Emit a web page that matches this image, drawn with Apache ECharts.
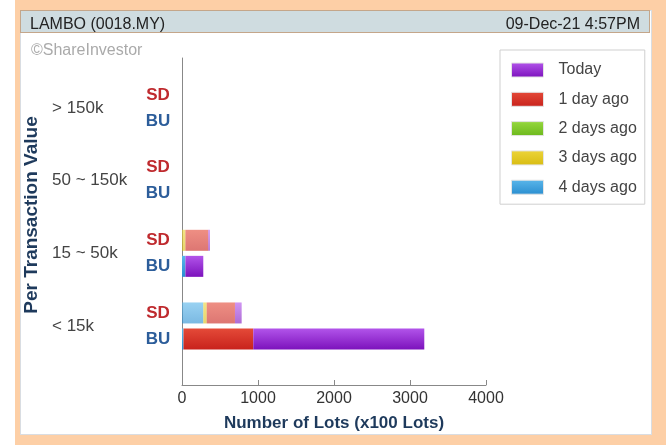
<!DOCTYPE html>
<html>
<head>
<meta charset="utf-8">
<script src="https://cdn.jsdelivr.net/npm/echarts@6/dist/echarts.min.js"></script>
<style>
  body { margin: 0; background: #fff; }
  #frame { position: absolute; left: 15px; top: 0; width: 651px; height: 445px; background: #fdcfa6; }
  #panel { position: absolute; left: 20px; top: 10px; width: 630px; height: 423px; background: #fff; border: 1px solid #d9dde2; }
  #head { position: absolute; left: 20px; top: 10px; width: 628px; height: 21px; background: #cfdce0; border: 1px solid #c4a68a; }
  #chart { position: absolute; left: 0; top: 0; width: 666px; height: 445px; }
</style>
</head>
<body>
<div id="frame"></div>
<div id="panel"></div>
<div id="head"></div>
<div id="chart"></div>
<script>
// groups, bottom to top
const groups = ['< 15k', '15 ~ 50k', '50 ~ 150k', '> 150k']
const ticks = [0, 1000, 2000, 3000, 4000]
const days = ['4 days ago', '3 days ago', '2 days ago', '1 day ago', 'Today']

// SD (sell down) lots per day
const sd4 = [280, 0, 0, 0]
const sd3 = [45, 45, 0, 0]
const sd2 = [0, 0, 0, 0]
const sd1 = [372, 300, 0, 0]
const sd0 = [88, 22, 0, 0]

// BU (buy up) lots per day
const bu4 = [20, 45, 0, 0]
const bu3 = [0, 0, 0, 0]
const bu2 = [0, 0, 0, 0]
const bu1 = [918, 0, 0, 0]
const bu0 = [2250, 235, 0, 0]

const colors = {
  '4 days ago': ['#5ab6ea', '#2a8ed0'],
  '3 days ago': ['#ecd43a', '#d8bc12'],
  '2 days ago': ['#96d83e', '#6cb81c'],
  '1 day ago': ['#e44a38', '#c8221c'],
  'Today': ['#b254ea', '#7c12bc']
}
const grad = (c) => new echarts.graphic.LinearGradient(0, 0, 0, 1, [
  { offset: 0, color: c[0] }, { offset: 1, color: c[1] }
])

const sdData = [sd4, sd3, sd2, sd1, sd0]
const buData = [bu4, bu3, bu2, bu1, bu0]

const series = []
days.forEach((d, i) => {
  series.push({
    name: d, type: 'bar', stack: 'SD', xAxisIndex: 1, yAxisIndex: 1,
    barWidth: 21, barGap: '24%', data: sdData[i],
    itemStyle: { color: grad(colors[d]), opacity: 0.62 }
  })
})
days.forEach((d, i) => {
  series.push({
    name: d, type: 'bar', stack: 'BU', xAxisIndex: 1, yAxisIndex: 1,
    barWidth: 21, barGap: '24%', data: buData[i],
    itemStyle: { color: grad(colors[d]) }
  })
})

const font = 'Liberation Sans, Arial, sans-serif'

const option = {
  animation: false,
  textStyle: { fontFamily: font },
  title: [
    { text: 'LAMBO (0018.MY)', left: 25, top: 12, textStyle: { fontSize: 16, fontWeight: 'normal', color: '#222' } },
    { text: '09-Dec-21 4:57PM', right: 21, top: 12, textStyle: { fontSize: 16, fontWeight: 'normal', color: '#222' } },
    { text: '©ShareInvestor', left: 26, top: 38, textStyle: { fontSize: 16, fontWeight: 'normal', color: '#aaa' } }
  ],
  legend: {
    orient: 'vertical', left: 500, top: 50,
    data: days.slice().reverse().map(d => ({ name: d, itemStyle: { color: grad(colors[d]), opacity: 1, borderColor: '#e4e4e4', borderWidth: 1 } })),
    icon: 'rect',
    itemWidth: 32, itemHeight: 14, itemGap: 13.3,
    padding: [12, 8, 9, 11],
    borderColor: '#cfcfcf', borderWidth: 1,
    selectedMode: false,
    textStyle: { fontSize: 16, color: '#444', padding: [0, 0, 0, 10] }
  },
  grid: [
    { left: 182, right: 180, top: 58, bottom: 60 },
    { left: 182, right: 180, top: 71.7, bottom: 82.7 }
  ],
  xAxis: [
    {
      type: 'value', gridIndex: 0, min: ticks[0], max: ticks[ticks.length - 1], interval: 1000,
      axisLine: { show: true, lineStyle: { color: '#888' } },
      axisTick: { show: true, inside: true, length: 5, lineStyle: { color: '#888' } },
      splitLine: { show: false },
      axisLabel: { color: '#333', fontSize: 16, margin: 6, formatter: (v) => String(v) },
      name: 'Number of Lots (x100 Lots)', nameLocation: 'middle', nameGap: 30,
      nameTextStyle: { fontSize: 17, fontWeight: 'bold', color: '#1e3a5c' }
    },
    { type: 'value', gridIndex: 1, min: 0, max: 4000, show: false }
  ],
  yAxis: [
    {
      type: 'value', gridIndex: 0, min: 0, max: 1,
      axisLine: { show: true, lineStyle: { color: '#888' } },
      axisTick: { show: false }, axisLabel: { show: false }, splitLine: { show: false },
      name: 'Per Transaction Value', nameLocation: 'middle', nameGap: 141,
      nameTextStyle: { fontSize: 19, fontWeight: 'bold', color: '#1e3a5c', padding: [0, 0, 0, 13] }
    },
    {
      type: 'category', gridIndex: 1, data: groups, position: 'left',
      axisLine: { show: false }, axisTick: { show: false },
      axisLabel: { align: 'left', margin: 130, fontSize: 17, color: '#444' }
    },
    {
      type: 'category', gridIndex: 1, data: groups, position: 'left',
      axisLine: { show: false }, axisTick: { show: false },
      axisLabel: {
        align: 'center', margin: 24,
        formatter: () => '{sd|SD}\n{bu|BU}',
        rich: {
          sd: { fontSize: 17, fontWeight: 'bold', color: '#bf2a2e', lineHeight: 26 },
          bu: { fontSize: 17, fontWeight: 'bold', color: '#2c5d9a', lineHeight: 26 }
        }
      }
    }
  ],
  series: series
}

const chartDom = document.getElementById('chart')
const myChart = echarts.init(chartDom)
myChart.setOption(option)
</script>
</body>
</html>
